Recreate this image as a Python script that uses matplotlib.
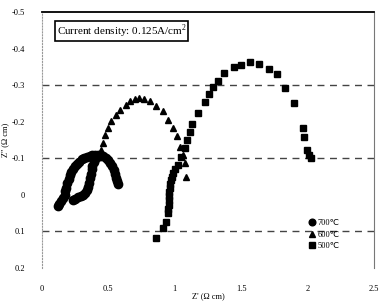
import matplotlib
matplotlib.use("Agg")
import matplotlib.pyplot as plt

plt.rcParams['font.family'] = ['Liberation Serif', 'DejaVu Sans']

# 700 C (circles): outer arc then inner branch
z_re_700 = [0.12, 0.13, 0.145, 0.16, 0.17, 0.175, 0.18, 0.19, 0.20, 0.21, 0.22,
            0.235, 0.25, 0.265, 0.28, 0.30, 0.32, 0.34, 0.36, 0.38, 0.40, 0.42,
            0.44, 0.46, 0.48, 0.50, 0.515, 0.53, 0.54, 0.55, 0.56, 0.565, 0.57,
            0.235, 0.25, 0.27, 0.29, 0.31, 0.325, 0.34, 0.35, 0.357, 0.363,
            0.37, 0.375, 0.38, 0.39, 0.40]
z_im_700 = [0.030, 0.024, 0.016, 0.008, 0.0, -0.01, -0.02, -0.032, -0.043, -0.053,
            -0.062, -0.070, -0.078, -0.085, -0.091, -0.097, -0.101, -0.104, -0.106,
            -0.108, -0.109, -0.109, -0.107, -0.105, -0.101, -0.095, -0.088, -0.078,
            -0.068, -0.058, -0.047, -0.038, -0.030,
            0.014, 0.010, 0.006, 0.003, 0.0, -0.006, -0.014, -0.022, -0.032, -0.045,
            -0.058, -0.070, -0.080, -0.090, -0.098]

# 600 C (triangles)
z_re_600 = [0.383, 0.423, 0.441, 0.456, 0.473, 0.498, 0.523, 0.556, 0.591, 0.631,
            0.666, 0.698, 0.730, 0.766, 0.811, 0.861, 0.911, 0.948, 0.986, 1.016,
            1.041, 1.061, 1.074, 1.086]
z_im_600 = [-0.090, -0.104, -0.123, -0.141, -0.163, -0.183, -0.202, -0.218, -0.232,
            -0.247, -0.256, -0.262, -0.265, -0.263, -0.256, -0.243, -0.229, -0.204,
            -0.182, -0.161, -0.132, -0.109, -0.086, -0.050]

# 500 C (squares)
z_re_500 = [0.861, 0.911, 0.936, 0.948, 0.951, 0.953, 0.955, 0.957, 0.959, 0.961,
            0.964, 0.968, 0.976, 0.986, 1.000, 1.023, 1.049, 1.074, 1.091, 1.111,
            1.131, 1.173, 1.224, 1.256, 1.286, 1.324, 1.374, 1.449, 1.499, 1.567,
            1.631, 1.712, 1.767, 1.832, 1.899, 1.962, 1.974, 1.999, 2.012, 2.025]
z_im_500 = [0.118, 0.091, 0.073, 0.050, 0.038, 0.027, 0.015, 0.003, -0.008, -0.019,
            -0.030, -0.041, -0.050, -0.059, -0.070, -0.082, -0.104, -0.127, -0.150,
            -0.172, -0.195, -0.223, -0.254, -0.275, -0.295, -0.311, -0.332, -0.350,
            -0.354, -0.363, -0.357, -0.345, -0.330, -0.293, -0.251, -0.182, -0.159,
            -0.123, -0.109, -0.100]

x_ticks = [0, 0.5, 1, 1.5, 2, 2.5]
x_tick_labels = ['0', '0.5', '1', '1.5', '2', '2.5']
y_ticks = [-0.5, -0.4, -0.3, -0.2, -0.1, 0, 0.1, 0.2]
y_tick_labels = ['-0.5', '-0.4', '-0.3', '-0.2', '-0.1', '0', '0.1', '0.2']
grid_levels = [-0.3, -0.1, 0.1]

fig = plt.figure(figsize=(3.79, 3.04), dpi=100)
ax = fig.add_axes([42 / 379, 1 - 268 / 304, 332 / 379, 256 / 304])

for g in grid_levels:
    ax.axhline(g, color='#444444', lw=1.0, ls=(0, (5, 4)), zorder=1)

ax.plot(z_re_700, z_im_700, 'o', color='black', ms=6, label='700℃', zorder=3)
ax.plot(z_re_600, z_im_600, '^', color='black', ms=5, label='600℃', zorder=3)
ax.plot(z_re_500, z_im_500, 's', color='black', ms=5, label='500℃', zorder=3)

ax.set_xlim(0, 2.5)
ax.set_ylim(0.2, -0.5)
ax.set_xticks(x_ticks)
ax.set_xticklabels(x_tick_labels, fontsize=6)
ax.set_yticks(y_ticks)
ax.set_yticklabels(y_tick_labels, fontsize=6)
ax.tick_params(axis='x', length=0, pad=12)
ax.tick_params(axis='y', length=0, pad=12)

ax.spines['top'].set_linewidth(1.3)
ax.spines['bottom'].set_visible(False)
ax.spines['left'].set_linestyle(':')
ax.spines['left'].set_color('#999999')
ax.spines['right'].set_linestyle((0, (4, 1, 1, 1)))
ax.spines['right'].set_color('#777777')
ax.spines['right'].set_linewidth(0.8)

ax.set_xlabel("Z' (Ω cm)", fontsize=6, labelpad=0)
ax.set_ylabel("Z'' (Ω cm)", fontsize=6, labelpad=2)

ax.text(0.11, -0.447, 'Current density: 0.125A/cm$^{\\mathregular{2}}$', fontsize=8,
        va='center', ha='left',
        bbox=dict(boxstyle='square,pad=0.12', fc='white', ec='black', lw=1.2))

ax.legend(loc='upper left', bbox_to_anchor=(0.78, 0.22), frameon=False,
          fontsize=6, handlelength=0.8, handletextpad=0.3, labelspacing=0.4,
          markerscale=0.8)

fig.savefig('out.png', dpi=100)
